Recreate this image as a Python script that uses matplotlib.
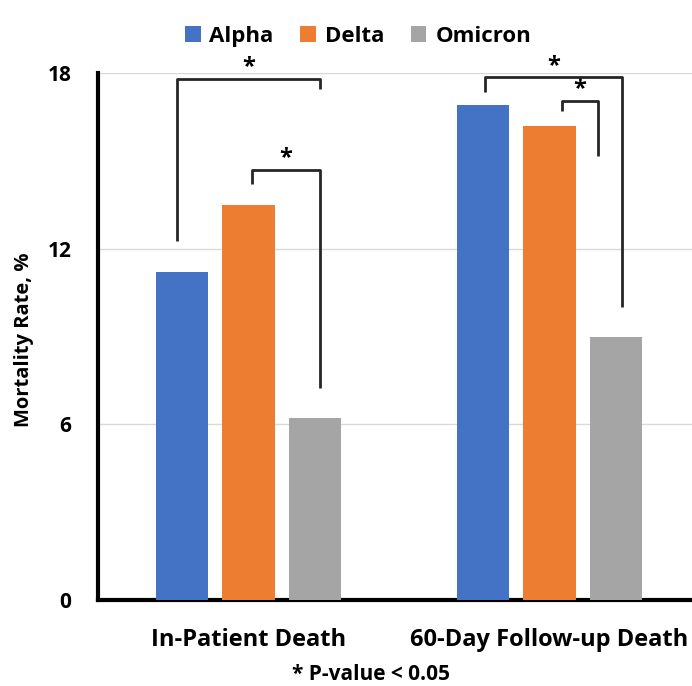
import matplotlib
matplotlib.use("Agg")
import matplotlib.pyplot as plt
import numpy as np

plt.rcParams['font.family'] = ['Open Sans', 'DejaVu Sans']
plt.rcParams['font.weight'] = 'bold'

categories = ["In-Patient Death", "60-Day Follow-up Death"]
variants = ["Alpha", "Delta", "Omicron"]
alpha_vals = [11.2, 16.9]
delta_vals = [13.5, 16.2]
omicron_vals = [6.2, 9.0]
colors = ["#4472C4", "#ED7D31", "#A5A5A5"]

# significance brackets: (category, x_left, x_right, y_left_end, y_right_end, y_top)
brackets = [
    (0, -0.236, 0.236, 12.25, 17.45, 17.8),
    (0, 0.01, 0.236, 14.2, 7.25, 14.7),
    (1, -0.213, 0.24, 17.35, 10.0, 17.85),
    (1, 0.04, 0.16, 16.7, 15.15, 17.05),
]

fig = plt.figure(figsize=(6.92, 6.86), dpi=100)
ax = fig.add_axes([98 / 692, 1 - 600 / 686, 602 / 692, 527 / 686])

x = np.arange(len(categories))
step = 0.221
width = 0.173
for i, (name, vals) in enumerate(zip(variants, [alpha_vals, delta_vals, omicron_vals])):
    ax.bar(x + (i - 1) * step, vals, width, color=colors[i], label=name, zorder=3)

for cat, xl, xr, yl, yr, yt in brackets:
    ax.plot([cat + xl, cat + xl, cat + xr, cat + xr], [yl, yt, yt, yr],
            color="#262626", lw=2, zorder=4, solid_capstyle="butt")
    ax.text(cat + (xl + xr) / 2, yt - 0.02, "*", ha="center", va="bottom",
            fontsize=17, fontweight="bold", color="black")

ax.set_xlim(-0.5, 1.5)
ax.set_ylim(0, 18)
ax.set_yticks([0, 6, 12, 18])
ax.set_xticks(x)
ax.set_xticklabels(categories)
ax.tick_params(axis="both", length=0)
ax.tick_params(axis="y", pad=19, labelsize=15)
ax.tick_params(axis="x", pad=20, labelsize=17)
ax.yaxis.grid(True, color="#D9D9D9", lw=1, zorder=0)
ax.set_axisbelow(True)
for s in ["top", "right"]:
    ax.spines[s].set_visible(False)
ax.spines["left"].set_linewidth(3)
ax.spines["bottom"].set_linewidth(3)

fig.text(24 / 692, 1 - 340 / 686, "Mortality Rate, %", rotation=90, ha="center", va="center",
         fontsize=14.5, fontweight="bold")

ax.legend(loc="upper center", bbox_to_anchor=(358 / 692, 1 - 6 / 686), bbox_transform=fig.transFigure,
          ncol=3, frameon=False, fontsize=16, handlelength=0.7, handleheight=0.7,
          handletextpad=0.4, columnspacing=1.2)

fig.text(371 / 692, 1 - 675 / 686, "* P-value < 0.05", ha="center", va="center",
         fontsize=15, fontweight="bold")

fig.savefig("out.png", dpi=100)
